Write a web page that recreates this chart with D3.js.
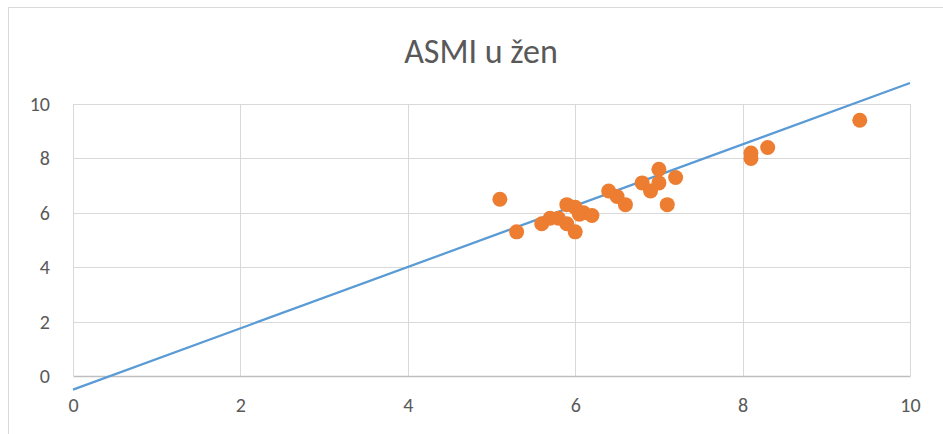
<!DOCTYPE html>
<html>
<head>
<meta charset="utf-8">
<script src="https://cdn.jsdelivr.net/npm/d3@7"></script>
<style>
  body { margin: 0; background: #fff; }
  text { font-family: Carlito, "Liberation Sans Narrow", "Open Sans", sans-serif; fill: #595959; }
</style>
</head>
<body>
<div id="chart"></div>
<script>
// size of svg
const width = 943; const height = 434;
const margin = {top: 104, right: 33, bottom: 58, left: 73};
const innerWidth = width - margin.left - margin.right;
const innerHeight = height - margin.top - margin.bottom;

// data
const xValues = [5.1, 5.3, 5.6, 5.7, 5.8, 5.9, 5.9, 6.0, 6.0, 6.05, 6.1, 6.2, 6.4, 6.5, 6.6, 6.8, 6.9, 7.0, 7.0, 7.1, 7.2, 8.1, 8.1, 8.3, 9.4];
const yValues = [6.5, 5.3, 5.6, 5.8, 5.8, 6.3, 5.6, 6.2, 5.3, 5.95, 6.0, 5.9, 6.8, 6.6, 6.3, 7.1, 6.8, 7.6, 7.1, 6.3, 7.3, 8.2, 8.0, 8.4, 9.4];
const trendX = [0, 10];
const trendY = [-0.5, 10.77];
const xTicks = [0, 2, 4, 6, 8, 10];
const yTicks = [0, 2, 4, 6, 8, 10];
const title = "ASMI u žen";

let svg = d3.select('#chart')
    .append('svg')
        .attr('width', width)
        .attr('height', height);

// chart frame
svg.append('rect')
    .attr('x', 8.5).attr('y', 7.5)
    .attr('width', 1000).attr('height', 1000)
    .attr('fill', 'none')
    .attr('stroke', '#d9d9d9');

svg.append('text')
    .attr('x', 481).attr('y', 51)
    .attr('text-anchor', 'middle')
    .attr('dominant-baseline', 'central')
    .style('font-size', '34px')
    .text(title);

let plotG = svg.append('g')
    .attr('transform', `translate(${margin.left}, ${margin.top})`);

const x_scale = d3.scaleLinear().domain([0, 10]).range([0, innerWidth]);
const y_scale = d3.scaleLinear().domain([0, 10]).range([innerHeight, 0]);

// grid lines
plotG.append('g')
    .selectAll('line')
    .data(yTicks.filter(d => d !== 0))
    .join('line')
        .attr('x1', 0).attr('x2', innerWidth)
        .attr('y1', d => Math.round(y_scale(d)) + 0.5)
        .attr('y2', d => Math.round(y_scale(d)) + 0.5)
        .attr('stroke', '#d9d9d9');
plotG.append('g')
    .selectAll('line')
    .data(xTicks)
    .join('line')
        .attr('x1', d => Math.round(x_scale(d)) + 0.5)
        .attr('x2', d => Math.round(x_scale(d)) + 0.5)
        .attr('y1', 0).attr('y2', innerHeight)
        .attr('stroke', '#d9d9d9');

// x axis
const x_axis = d3.axisBottom(x_scale)
    .tickValues(xTicks)
    .tickSize(0)
    .tickPadding(22);
let xg = plotG.append('g')
    .attr('transform', `translate(0, ${innerHeight})`)
    .call(x_axis);
xg.select('.domain').attr('stroke', '#bfbfbf').attr('stroke-width', 1.5);
xg.selectAll('text').style('font-size', '20px').attr('fill', '#595959');

// y axis
const y_axis = d3.axisLeft(y_scale)
    .tickValues(yTicks)
    .tickSize(0)
    .tickPadding(23);
let yg = plotG.append('g').call(y_axis);
yg.select('.domain').remove();
yg.selectAll('text').style('font-size', '20px').attr('fill', '#595959');

// trend line
plotG.append('path')
    .datum(trendX.map((d, i) => [d, trendY[i]]))
    .attr('fill', 'none')
    .attr('stroke', '#5b9bd5')
    .attr('stroke-width', 2.25)
    .attr('d', d3.line().x(d => x_scale(d[0])).y(d => y_scale(d[1])));

// points
plotG.append('g')
    .selectAll('circle')
    .data(xValues.map((d, i) => [d, yValues[i]]))
    .join('circle')
        .attr('cx', d => x_scale(d[0]))
        .attr('cy', d => y_scale(d[1]))
        .attr('r', 7.5)
        .attr('fill', '#ed7d31');
</script>
</body>
</html>
